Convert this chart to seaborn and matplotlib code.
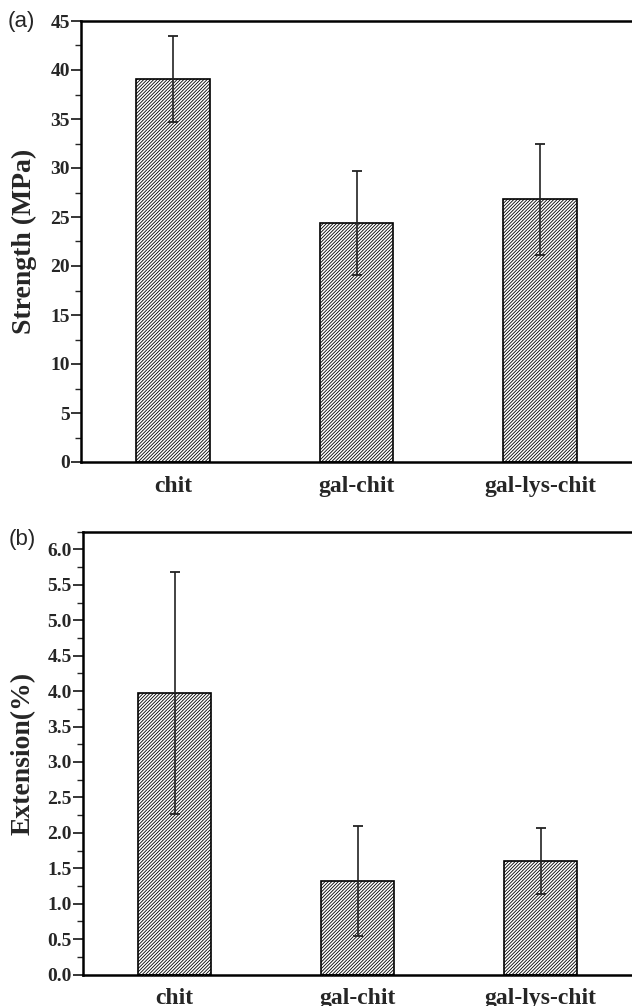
import matplotlib
matplotlib.use("Agg")
import matplotlib.pyplot as plt
import seaborn as sns
import pandas as pd
import numpy as np
from matplotlib.ticker import MultipleLocator, FormatStrFormatter

categories = ["chit", "gal-chit", "gal-lys-chit"]
strength = [39.1, 24.4, 26.8]
strength_err = [4.4, 5.3, 5.7]
extension = [3.97, 1.32, 1.60]
extension_err = [1.71, 0.77, 0.465]

sns.set_theme(style="ticks")
plt.rcParams["font.family"] = ["Liberation Serif", "DejaVu Serif"]
plt.rcParams["font.weight"] = "bold"
plt.rcParams["hatch.linewidth"] = 0.6
plt.rcParams["hatch.color"] = "black"

fig = plt.figure(figsize=(6.32, 10.06), dpi=100)
ax1 = fig.add_axes([81 / 632, 1 - 462 / 1006, 1 - 81 / 632, (462 - 21) / 1006])
ax2 = fig.add_axes([83 / 632, 1 - 974.5 / 1006, 1 - 83 / 632, (974.5 - 531.7) / 1006])

def draw(ax, vals, errs, ylabel, ymax, major, minor, fmt, label_x):
    df = pd.DataFrame({"cat": categories, "val": vals})
    sns.barplot(data=df, x="cat", y="val", ax=ax, color="white", width=0.4,
                edgecolor="black", linewidth=1.2, hatch="//////////", errorbar=None,
                saturation=1)
    ax.errorbar(np.arange(len(categories)), vals, yerr=errs, fmt="none",
                ecolor="#222222", elinewidth=1.2, capsize=3.3, capthick=1.3)
    ax.set_xlim(-0.5, 2.5)
    ax.set_ylim(0, ymax)
    ax.yaxis.set_major_locator(MultipleLocator(major))
    ax.yaxis.set_minor_locator(MultipleLocator(minor))
    ax.yaxis.set_major_formatter(FormatStrFormatter(fmt))
    ax.set_xlabel("")
    ax.set_ylabel(ylabel, fontsize=20, fontweight="bold")
    ax.yaxis.set_label_coords(label_x, 0.5)
    ax.tick_params(axis="y", which="major", length=7, width=1.3, labelsize=14,
                   direction="out", pad=1)
    ax.tick_params(axis="y", which="minor", length=4, width=1.0, direction="out")
    ax.tick_params(axis="x", length=0, labelsize=17, pad=10)
    for lab in ax.get_xticklabels() + ax.get_yticklabels():
        lab.set_fontweight("bold")
    for s in ["left", "bottom", "top"]:
        ax.spines[s].set_visible(True)
        ax.spines[s].set_linewidth(1.8)
        ax.spines[s].set_color("black")
    ax.spines["right"].set_visible(False)

draw(ax1, strength, strength_err, "Strength (MPa)", 45, 5, 2.5, "%d", -0.08)
draw(ax2, extension, extension_err, "Extension(%)", 6.25, 0.5, 0.25, "%.1f", -0.087)

fig.text(8 / 632, 1 - 22 / 1006, "(a)", fontsize=16, fontweight="normal",
         family="Liberation Sans", ha="left", va="center")
fig.text(9 / 632, 1 - 540 / 1006, "(b)", fontsize=16, fontweight="normal",
         family="Liberation Sans", ha="left", va="center")

fig.savefig("out.png", dpi=100)
